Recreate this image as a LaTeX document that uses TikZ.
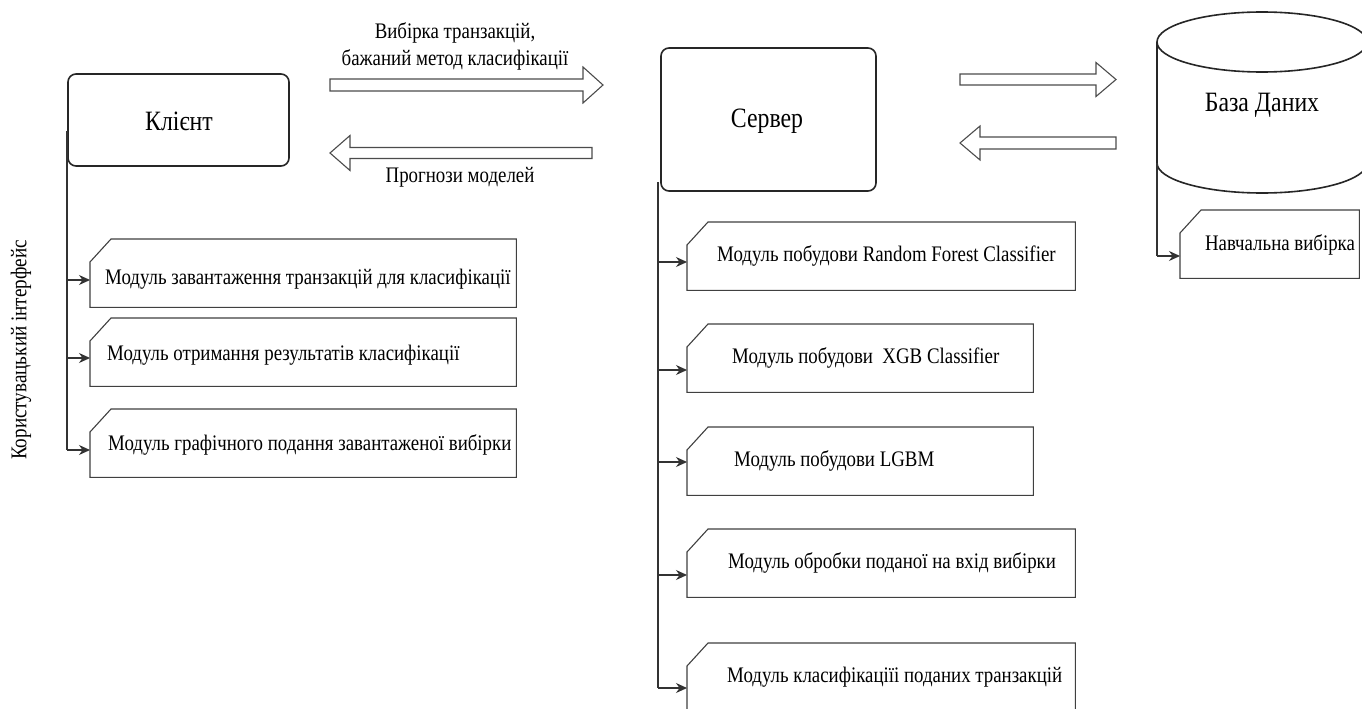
\documentclass[tikz,border=0pt]{standalone}
\usepackage{fontspec}
\setmainfont{Liberation Serif}
\newfontfamily\narrowserif[FakeStretch=0.85]{Liberation Serif}
\usetikzlibrary{arrows.meta,calc}

% outline of a module box: rectangle with the top-left corner cut off
\newcommand\modoutline[1]{%
  \draw[modline] (#1.south west) -- ($(#1.north west)+(0,23)$) -- ($(#1.north west)+(21,0)$)
    -- (#1.north east) -- (#1.south east) -- cycle;}
% hollow block arrow: tail x, tip x, centre y, half shaft, half head, head base x
\newcommand\blockarrow[6]{%
  \draw[blockline] (#1,#3-#4) -- (#6,#3-#4) -- (#6,#3-#5) -- (#2,#3) -- (#6,#3+#5)
    -- (#6,#3+#4) -- (#1,#3+#4) -- cycle;}

\begin{document}
\begin{tikzpicture}[x=1pt,y=-1pt,
  mainbox/.style={draw=black!85, line width=1.6pt, rounded corners=8pt},
  modline/.style={draw=black!75, line width=1.1pt},
  blockline/.style={draw=black!70, line width=1.1pt, fill=white},
  modarea/.style={inner sep=0pt, anchor=north west, minimum height=68pt},
  bigtext/.style={font=\narrowserif\fontsize{28}{31}\selectfont},
  modtext/.style={font=\narrowserif\fontsize{22.2}{25}\selectfont, anchor=west, inner sep=0pt},
  labtext/.style={font=\narrowserif\fontsize{22.2}{27}\selectfont, align=center, inner sep=0pt},
  feed/.style={draw=black!80, line width=1.1pt},
  feedarrow/.style={feed, -{Stealth[length=11pt,width=10pt]}}
]
\clip (0,0) rectangle (1362,709);
\fill[white] (0,0) rectangle (1362,709);

% ---------- client side ----------
\draw[mainbox] (68,74) rectangle (289,166);
\node[bigtext] (client) at (179,121) {Клієнт};
\coordinate (cltop) at (67,131);

\node[modarea, minimum width=426pt] (c1) at (90,239) {};
\node[modarea, minimum width=426pt] (c2) at (90,318) {};
\node[modarea, minimum width=426pt] (c3) at (90,409) {};
\foreach \b in {c1,c2,c3} {\modoutline{\b}}
\node[modtext] (c1t) at (105,279) {Модуль завантаження транзакцій для класифікації};
\node[modtext] (c2t) at (107,355) {Модуль отримання результатів класифікації};
\node[modtext] (c3t) at (108,445) {Модуль графічного подання завантаженої вибірки};

\coordinate (cl1) at (67,280);
\coordinate (cl2) at (67,358);
\coordinate (cl3) at (67,450);
\draw[feed] (cltop) -- (cl3);
\draw[feedarrow] (cl1) -- (c1.west |- cl1);
\draw[feedarrow] (cl2) -- (c2.west |- cl2);
\draw[feedarrow] (cl3) -- (c3.west |- cl3);

\node[font=\narrowserif\fontsize{22.5}{24}\selectfont, rotate=90] (ui) at (21,350) {Користувацький інтерфейс};

% ---------- client <-> server ----------
\blockarrow{330}{603}{85}{6}{18}{583}
\blockarrow{592}{330}{153}{5.5}{17.5}{350}
\node[labtext] (req) at (455,46) {Вибірка транзакцій,\\бажаний метод класифікації};
\node[labtext] (resp) at (460,177) {Прогнози моделей};

% ---------- server side ----------
\draw[mainbox] (661,48) rectangle (876,191);
\node[bigtext] (server) at (767,121) {Сервер};
\coordinate (svtop) at (658,182);

\node[modarea, minimum width=388pt] (s1) at (687,222) {};
\node[modarea, minimum width=346pt] (s2) at (687,324) {};
\node[modarea, minimum width=346pt] (s3) at (687,427) {};
\node[modarea, minimum width=388pt] (s4) at (687,529) {};
\node[modarea, minimum width=388pt] (s5) at (687,643) {};
\foreach \b in {s1,s2,s3,s4,s5} {\modoutline{\b}}
\node[modtext] (s1t) at (717,256) {Модуль побудови Random Forest Classifier};
\node[modtext] (s2t) at (732,358) {Модуль побудови\ \ XGB Classifier};
\node[modtext] (s3t) at (734,461) {Модуль побудови LGBM};
\node[modtext] (s4t) at (728,563) {Модуль обробки поданої на вхід вибірки};
\node[modtext] (s5t) at (727,677) {Модуль класифікаціїі поданих транзакцій};

\coordinate (sl1) at (658,262);
\coordinate (sl2) at (658,370);
\coordinate (sl3) at (658,462);
\coordinate (sl4) at (658,575);
\coordinate (sl5) at (658,688);
\draw[feed] (svtop) -- (sl5);
\draw[feedarrow] (sl1) -- (s1.west |- sl1);
\draw[feedarrow] (sl2) -- (s2.west |- sl2);
\draw[feedarrow] (sl3) -- (s3.west |- sl3);
\draw[feedarrow] (sl4) -- (s4.west |- sl4);
\draw[feedarrow] (sl5) -- (s5.west |- sl5);

% ---------- server <-> database ----------
\blockarrow{960}{1116}{79.5}{5.5}{17}{1096}
\blockarrow{1116}{960}{143}{6}{17}{980}

% ---------- database ----------
\draw[mainbox, rounded corners=0pt, fill=white]
  (1157,42) -- (1157,163) arc[start angle=180, end angle=0, x radius=105, y radius=30]
  -- (1367,42);
\draw[mainbox, rounded corners=0pt] (1262,42) ellipse[x radius=105, y radius=30];
\node[bigtext] (db) at (1262,105) {База Даних};
\coordinate (dbtop) at (1157,163);

\node[modarea, minimum width=179pt] (d1) at (1180,210) {};
\modoutline{d1}
\node[font=\narrowserif\fontsize{22.2}{25}\selectfont] (d1t) at (1280,245) {Навчальна вибірка};
\coordinate (dl1) at (1157,256);
\draw[feed] (dbtop) -- (dl1);
\draw[feedarrow] (dl1) -- (d1.west |- dl1);
\end{tikzpicture}
\end{document}
